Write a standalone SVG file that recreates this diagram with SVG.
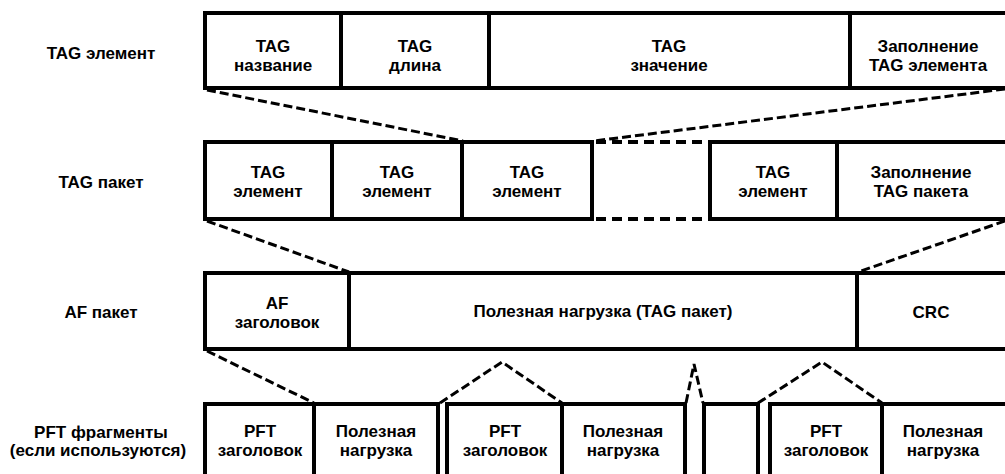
<svg xmlns="http://www.w3.org/2000/svg" width="1005" height="474" viewBox="0 0 1005 474">
<style>
.bg{fill:#fff}
.ln{stroke:#000;stroke-width:4;fill:none;stroke-linecap:square}
.dl{stroke:#000;stroke-width:4;fill:none;stroke-dasharray:10 6}
.conn{stroke:#000;stroke-width:3;fill:none;stroke-dasharray:9 4}
.t{font-family:"Liberation Sans",Arial,sans-serif;font-weight:bold;font-size:17px;fill:#000;text-anchor:middle}
</style>
<rect class="bg" x="0" y="0" width="1005" height="474"/>

<g id="labels">
<text class="t" x="101" y="59">TAG элемент</text>
<text class="t" x="101" y="188">TAG пакет</text>
<text class="t" x="101" y="318">AF пакет</text>
<text class="t" x="101" y="438">PFT фрагменты</text>
<text class="t" x="98" y="456">(если используются)</text>
</g>

<g id="tag-element">
<rect class="ln" x="205" y="13" width="810" height="75"/>
<line class="ln" x1="341" y1="13" x2="341" y2="88"/>
<line class="ln" x1="489" y1="13" x2="489" y2="88"/>
<line class="ln" x1="850" y1="13" x2="850" y2="88"/>
<g id="te-name"><text class="t" x="273" y="52">TAG</text><text class="t" x="273" y="71">название</text></g>
<g id="te-len"><text class="t" x="415" y="52">TAG</text><text class="t" x="415" y="71">длина</text></g>
<g id="te-val"><text class="t" x="669" y="52">TAG</text><text class="t" x="669" y="71">значение</text></g>
<g id="te-pad"><text class="t" x="928" y="52">Заполнение</text><text class="t" x="928" y="71">TAG элемента</text></g>
</g>

<g id="tag-packet">
<line class="ln" x1="205" y1="142" x2="205" y2="219"/>
<line class="ln" x1="205" y1="142" x2="592" y2="142"/>
<line class="ln" x1="710" y1="142" x2="1012" y2="142"/>
<line class="ln" x1="205" y1="219" x2="592" y2="219"/>
<line class="ln" x1="710" y1="219" x2="1012" y2="219"/>
<line class="dl" x1="596" y1="142" x2="706" y2="142"/>
<line class="dl" x1="596" y1="219" x2="706" y2="219"/>
<line class="ln" x1="332" y1="142" x2="332" y2="219"/>
<line class="ln" x1="462" y1="142" x2="462" y2="219"/>
<line class="ln" x1="592" y1="142" x2="592" y2="219"/>
<line class="ln" x1="710" y1="142" x2="710" y2="219"/>
<line class="ln" x1="837" y1="142" x2="837" y2="219"/>
<g id="tp-e1"><text class="t" x="268" y="178">TAG</text><text class="t" x="268" y="197">элемент</text></g>
<g id="tp-e2"><text class="t" x="397" y="178">TAG</text><text class="t" x="397" y="197">элемент</text></g>
<g id="tp-e3"><text class="t" x="527" y="178">TAG</text><text class="t" x="527" y="197">элемент</text></g>
<g id="tp-e4"><text class="t" x="773" y="178">TAG</text><text class="t" x="773" y="197">элемент</text></g>
<g id="tp-pad"><text class="t" x="921" y="178">Заполнение</text><text class="t" x="921" y="197">TAG пакета</text></g>
</g>

<g id="af-packet">
<rect class="ln" x="205" y="273" width="810" height="76"/>
<line class="ln" x1="349" y1="273" x2="349" y2="349"/>
<line class="ln" x1="857" y1="273" x2="857" y2="349"/>
<g id="af-head"><text class="t" x="277" y="309">AF</text><text class="t" x="277" y="328">заголовок</text></g>
<g id="af-payload"><text class="t" x="603" y="317">Полезная нагрузка (TAG пакет)</text></g>
<g id="af-crc"><text class="t" x="931" y="318">CRC</text></g>
</g>

<g id="pft-fragments">
<path class="ln" d="M205,480 V404 H438 V480 M314,404 V480"/>
<path class="ln" d="M447,480 V404 H685 V480 M562,404 V480"/>
<path class="ln" d="M704,480 V404 H758 V480"/>
<path class="ln" d="M770,480 V404 H1012 M882,404 V480"/>
<g id="pft-h1"><text class="t" x="260" y="437">PFT</text><text class="t" x="260" y="456">заголовок</text></g>
<g id="pft-p1"><text class="t" x="376" y="437">Полезная</text><text class="t" x="376" y="456">нагрузка</text></g>
<g id="pft-h2"><text class="t" x="505" y="437">PFT</text><text class="t" x="505" y="456">заголовок</text></g>
<g id="pft-p2"><text class="t" x="623" y="437">Полезная</text><text class="t" x="623" y="456">нагрузка</text></g>
<g id="pft-h3"><text class="t" x="826" y="437">PFT</text><text class="t" x="826" y="456">заголовок</text></g>
<g id="pft-p3"><text class="t" x="943" y="437">Полезная</text><text class="t" x="943" y="456">нагрузка</text></g>
</g>

<g id="connectors">
<line class="conn" x1="207" y1="90" x2="463" y2="141"/>
<line class="conn" x1="1005" y1="89" x2="594" y2="141"/>
<line class="conn" x1="207" y1="221" x2="349" y2="272"/>
<line class="conn" x1="1005" y1="221" x2="858" y2="272"/>
<line class="conn" x1="207" y1="351" x2="314" y2="403"/>
<polyline class="conn" points="440,403 502,362 562,403"/>
<polyline class="conn" points="686,403 694,364 703,403"/>
<polyline class="conn" points="758,403 822,362 882,403"/>
</g>
</svg>
